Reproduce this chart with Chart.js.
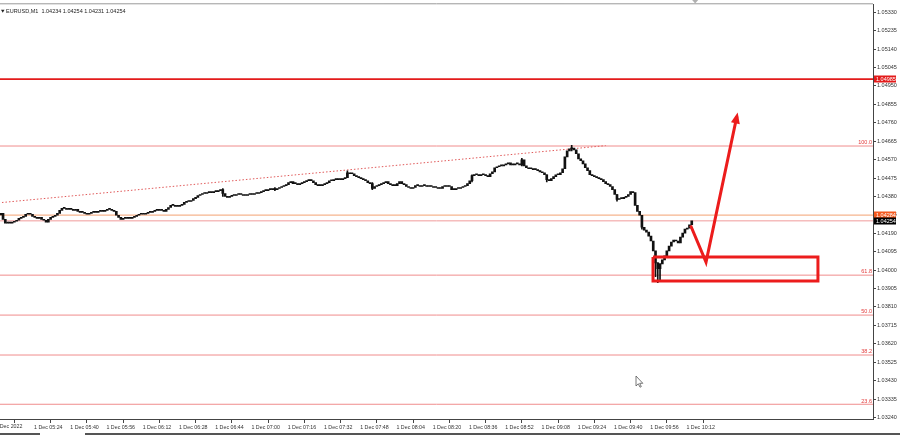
<!DOCTYPE html>
<html><head><meta charset="utf-8">
<script src="https://cdn.jsdelivr.net/npm/chart.js@4.4.1/dist/chart.umd.min.js"></script>
<style>html,body{margin:0;padding:0;background:#fff;overflow:hidden}#wrap{width:900px;height:435px;position:relative}</style>
</head><body><div id="wrap"><canvas id="c" width="900" height="435"></canvas></div>
<script>
// ---------------- DATA ----------------
const headerText = "EURUSD,M1  1.04234 1.04254 1.04231 1.04254";
const dateLabel = "1 Dec 2022";
// minute index 0 = 1 Dec 05:10
const timeTickIndex = [14,30,46,62,78,94,110,126,142,158,174,190,206,222,238,254,270,286,302];
const timeTickLabels = ["1 Dec 05:24","1 Dec 05:40","1 Dec 05:56","1 Dec 06:12","1 Dec 06:28","1 Dec 06:44","1 Dec 07:00","1 Dec 07:16","1 Dec 07:32","1 Dec 07:48","1 Dec 08:04","1 Dec 08:20","1 Dec 08:36","1 Dec 08:52","1 Dec 09:08","1 Dec 09:24","1 Dec 09:40","1 Dec 09:56","1 Dec 10:12"];
const priceTicks = [1.03240,1.03335,1.03430,1.03525,1.03620,1.03715,1.03810,1.03905,1.04000,1.04095,1.04190,1.04285,1.04380,1.04475,1.04570,1.04665,1.04760,1.04855,1.04950,1.05045,1.05140,1.05235,1.05330];
const firstOpen = 1.04285;
const closes = [
1.04293,1.04262,1.04242,1.04247,1.04242,1.04247,1.04252,1.04257,1.04267,1.04272,
1.04277,1.04288,1.04293,1.04288,1.04277,1.04272,1.04267,1.04272,1.04262,1.04257,
1.04247,1.04262,1.04272,1.04277,1.04283,1.04293,1.04308,1.04318,1.04318,1.04313,
1.04318,1.04313,1.04308,1.04313,1.04303,1.04298,1.04298,1.04293,1.04288,1.04293,
1.04298,1.04303,1.04298,1.04303,1.04308,1.04303,1.04308,1.04313,1.04313,1.04308,
1.04303,1.04283,1.04272,1.04262,1.04267,1.04272,1.04267,1.04267,1.04272,1.04277,
1.04283,1.04288,1.04293,1.04288,1.04293,1.04298,1.04298,1.04303,1.04308,1.04308,
1.04313,1.04308,1.04303,1.04313,1.04323,1.04334,1.04334,1.04329,1.04329,1.04334,
1.04339,1.04349,1.04354,1.04354,1.04359,1.04369,1.04375,1.04385,1.04390,1.04395,
1.04395,1.04400,1.04400,1.04400,1.04405,1.04405,1.04410,1.04415,1.04395,1.04380,
1.04375,1.04380,1.04385,1.04385,1.04390,1.04395,1.04390,1.04385,1.04385,1.04390,
1.04390,1.04390,1.04395,1.04395,1.04400,1.04405,1.04410,1.04410,1.04415,1.04415,
1.04421,1.04415,1.04421,1.04426,1.04431,1.04436,1.04441,1.04451,1.04456,1.04446,
1.04446,1.04441,1.04446,1.04451,1.04456,1.04461,1.04467,1.04461,1.04451,1.04441,
1.04436,1.04436,1.04441,1.04446,1.04451,1.04461,1.04461,1.04467,1.04467,1.04472,
1.04467,1.04472,1.04477,1.04502,1.04497,1.04497,1.04487,1.04482,1.04477,1.04472,
1.04467,1.04461,1.04451,1.04446,1.04421,1.04431,1.04436,1.04441,1.04446,1.04451,
1.04456,1.04446,1.04441,1.04436,1.04436,1.04446,1.04456,1.04446,1.04441,1.04431,
1.04426,1.04421,1.04426,1.04436,1.04436,1.04431,1.04436,1.04436,1.04431,1.04431,
1.04431,1.04426,1.04426,1.04421,1.04421,1.04431,1.04436,1.04431,1.04431,1.04415,
1.04415,1.04421,1.04421,1.04426,1.04431,1.04436,1.04446,1.04461,1.04487,1.04492,
1.04492,1.04487,1.04492,1.04492,1.04487,1.04482,1.04497,1.04507,1.04528,1.04533,
1.04538,1.04538,1.04543,1.04548,1.04553,1.04543,1.04543,1.04548,1.04548,1.04543,
1.04569,1.04538,1.04528,1.04523,1.04523,1.04518,1.04518,1.04513,1.04507,1.04502,
1.04492,1.04467,1.04461,1.04472,1.04482,1.04492,1.04492,1.04502,1.04523,1.04584,
1.04615,1.04625,1.04630,1.04620,1.04600,1.04574,1.04564,1.04548,1.04528,1.04513,
1.04492,1.04487,1.04482,1.04477,1.04472,1.04467,1.04456,1.04446,1.04441,1.04431,
1.04415,1.04390,1.04364,1.04369,1.04369,1.04375,1.04380,1.04390,1.04405,1.04400,
1.04334,1.04303,1.04283,1.04221,1.04206,1.04196,1.04175,1.04150,1.04099,1.04037,
1.04007,1.04032,1.04053,1.04073,1.04099,1.04124,1.04145,1.04155,1.04150,1.04140,
1.04170,1.04191,1.04211,1.04216,1.04234,1.04254
];
// notable wicks: [minute index, high, low]
const wicks = [[98,1.04420,1.04380],[121,1.04426,1.04410],[153,1.04512,1.04477],[164,1.04451,1.04415],[208,1.04492,1.04455],[230,1.04576,1.04538],[241,1.04492,1.04455],[252,1.04643,1.04615],[272,1.04390,1.04355],[283,1.04283,1.04211],[289,1.04037,1.03966],[290,1.04037,1.03935],[291,1.04032,1.03950]];
const fibNames = ["100.0","61.8","50.0","38.2","23.6"];
const fibPrices = [1.04640,1.03974,1.03768,1.03562,1.03308];
const resistancePrice = 1.04985;
const askPrice = 1.04284;
const bidPrice = 1.04254;
const trendIdx = [-1, 267];
const trendPrice = [1.04347, 1.04642];
const arrowIdx = [304.5, 311.3, 324.9];
const arrowPrice = [1.04230, 1.04041, 1.04793];
const boxIdx = [287.9, 360.7];
const boxPrice = [1.04068, 1.03944];

// ---------------- BUILD ----------------
const opens = [firstOpen].concat(closes.slice(0, -1));
const bodies = closes.map((c, i) => ({x: i, y: [opens[i], c]}));
const wickData = wicks.map(w => ({x: w[0], y: [w[2], w[1]]}));
const hline = (p) => [{x: -5, y: p}, {x: 400, y: p}];
const lineDs = (data, color, width, extra) => Object.assign({type: 'line', data, borderColor: color, borderWidth: width, pointRadius: 0, tension: 0, fill: false}, extra || {});

const datasets = [];
fibPrices.forEach(p => datasets.push(lineDs(hline(p), '#f08c8c', 1, {order: 20})));
datasets.push(lineDs(hline(resistancePrice), '#e31b1b', 1.6, {order: 20}));
datasets.push(lineDs(hline(askPrice), '#f6b48e', 1.3, {order: 20}));
datasets.push(lineDs(hline(bidPrice), '#f09a9a', 1, {order: 20}));
datasets.push(lineDs(trendIdx.map((v, i) => ({x: v, y: trendPrice[i]})), '#e05a5a', 1, {order: 19, borderDash: [1.5, 2]}));
datasets.push({type: 'bar', data: wickData, backgroundColor: '#111', barThickness: 1, grouped: false, order: 6});
datasets.push({type: 'bar', data: bodies, backgroundColor: '#111', barThickness: 2, grouped: false, minBarLength: 1, order: 5});
const bx = boxIdx, bp = boxPrice;
datasets.push(lineDs([{x: bx[0], y: bp[0]}, {x: bx[1], y: bp[0]}, {x: bx[1], y: bp[1]}, {x: bx[0], y: bp[1]}, {x: bx[0], y: bp[0]}], '#ec1c1c', 3, {order: 1, borderJoinStyle: 'miter'}));
datasets.push(lineDs(arrowIdx.map((v, i) => ({x: v, y: arrowPrice[i]})), '#ec1c1c', 3, {order: 1, borderJoinStyle: 'miter'}));

const FONT = '"Liberation Sans", Arial, sans-serif';

const decor = {
  id: 'decor',
  beforeDraw(chart) {
    const ctx = chart.ctx;
    ctx.save(); ctx.fillStyle = '#fff'; ctx.fillRect(0, 0, chart.width, chart.height); ctx.restore();
  },
  afterDatasetsDraw(chart) {
    const {ctx, chartArea: a, scales: {x, y}} = chart;
    ctx.save();
    // arrow head
    const n = arrowIdx.length;
    const x1 = x.getPixelForValue(arrowIdx[n - 2]), y1 = y.getPixelForValue(arrowPrice[n - 2]);
    const x2 = x.getPixelForValue(arrowIdx[n - 1]), y2 = y.getPixelForValue(arrowPrice[n - 1]);
    const ang = Math.atan2(y2 - y1, x2 - x1);
    const L = 11, W = 4.5;
    const tx = x2 + Math.cos(ang) * 4, ty = y2 + Math.sin(ang) * 4;
    ctx.fillStyle = '#ec1c1c';
    ctx.beginPath();
    ctx.moveTo(tx, ty);
    ctx.lineTo(tx - L * Math.cos(ang) + W * Math.sin(ang), ty - L * Math.sin(ang) - W * Math.cos(ang));
    ctx.lineTo(tx - L * Math.cos(ang) - W * Math.sin(ang), ty - L * Math.sin(ang) + W * Math.cos(ang));
    ctx.closePath(); ctx.fill();
    // fib labels
    ctx.font = '5.5px ' + FONT;
    ctx.fillStyle = '#e23a3a';
    ctx.textAlign = 'right'; ctx.textBaseline = 'bottom';
    fibPrices.forEach((p, i) => ctx.fillText(fibNames[i], a.right - 1, y.getPixelForValue(p) - 0.5));
    // header
    ctx.fillStyle = '#222'; ctx.textAlign = 'left'; ctx.textBaseline = 'middle';
    ctx.fillText(headerText, a.left + 6, a.top + 7);
    ctx.beginPath(); ctx.moveTo(a.left + 1, a.top + 5.5); ctx.lineTo(a.left + 4.5, a.top + 5.5); ctx.lineTo(a.left + 2.75, a.top + 8.5); ctx.closePath(); ctx.fill();
    ctx.restore();
  },
  afterDraw(chart) {
    const {ctx, chartArea: a, scales: {x, y}} = chart;
    ctx.save();
    // top border
    ctx.strokeStyle = '#9a9a9a'; ctx.lineWidth = 1;
    ctx.beginPath(); ctx.moveTo(0, a.top - 0.5); ctx.lineTo(a.right, a.top - 0.5); ctx.stroke();
    // price boxes on axis
    ctx.font = '5.5px ' + FONT; ctx.textAlign = 'left'; ctx.textBaseline = 'middle';
    [[resistancePrice, '#e31b1b'], [askPrice, '#f4591e'], [bidPrice, '#000']].forEach(([p, col]) => {
      const py = Math.round(y.getPixelForValue(p));
      ctx.fillStyle = col; ctx.fillRect(a.right + 1, py - 3.5, 22, 7);
      ctx.fillStyle = '#fff'; ctx.fillText(p.toFixed(5), a.right + 3, py + 0.3);
    });
    // clipped date label at left
    ctx.fillStyle = '#333'; ctx.font = '5.3px ' + FONT; ctx.textBaseline = 'middle';
    ctx.fillText(dateLabel, x.getPixelForValue(-2.4), a.bottom + 8);
    // shift marker
    const sx = x.getPixelForValue(306.5);
    ctx.fillStyle = '#b0b0b0';
    ctx.beginPath(); ctx.moveTo(sx - 3, 0); ctx.lineTo(sx + 3, 0); ctx.lineTo(sx, 3.5); ctx.closePath(); ctx.fill();
    // bottom tab strip
    ctx.fillStyle = '#555';
    ctx.fillRect(0, chart.height - 2, 40, 2); ctx.fillRect(85, chart.height - 2, chart.width - 85, 2);
    // mouse cursor
    const cx = 636, cy = 376;
    ctx.fillStyle = '#fff'; ctx.strokeStyle = '#555'; ctx.lineWidth = 0.8;
    ctx.beginPath(); ctx.moveTo(cx, cy); ctx.lineTo(cx, cy + 10); ctx.lineTo(cx + 2.3, cy + 7.8); ctx.lineTo(cx + 4, cy + 11.2); ctx.lineTo(cx + 5.3, cy + 10.6); ctx.lineTo(cx + 3.7, cy + 7.3); ctx.lineTo(cx + 6.8, cy + 7.3); ctx.closePath(); ctx.fill(); ctx.stroke();
    ctx.restore();
  }
};

new Chart(document.getElementById('c'), {
  type: 'bar',
  data: {datasets},
  options: {
    responsive: false, animation: false, events: [],
    layout: {padding: {top: 1, left: 0, right: 0, bottom: 0}},
    plugins: {legend: {display: false}, tooltip: {enabled: false}},
    scales: {
      x: {
        type: 'linear', position: 'bottom', min: -0.34, max: 385,
        offset: false,
        afterBuildTicks: s => { s.ticks = timeTickIndex.map(v => ({value: v})); },
        afterFit: s => { s.height = 16; s.paddingLeft = 0; s.paddingRight = 0; },
        ticks: {autoSkip: false, maxRotation: 0, align: 'start', padding: 1, color: '#333', font: {size: 5.3, family: FONT},
          callback: (v, i) => ' ' + timeTickLabels[i]},
        grid: {drawOnChartArea: false, drawTicks: true, tickLength: 4, color: '#444'},
        border: {display: true, color: '#444', width: 1}
      },
      y: {
        type: 'linear', position: 'right', min: 1.03232, max: 1.05371,
        afterBuildTicks: s => { s.ticks = priceTicks.map(v => ({value: v})); },
        afterFit: s => { s.width = 27; },
        ticks: {autoSkip: false, padding: 1, color: '#333', font: {size: 5.5, family: FONT},
          callback: v => Number(v).toFixed(5)},
        grid: {drawOnChartArea: false, drawTicks: true, tickLength: 3, color: '#444'},
        border: {display: true, color: '#444', width: 1}
      }
    }
  },
  plugins: [decor]
});
</script></body></html>
